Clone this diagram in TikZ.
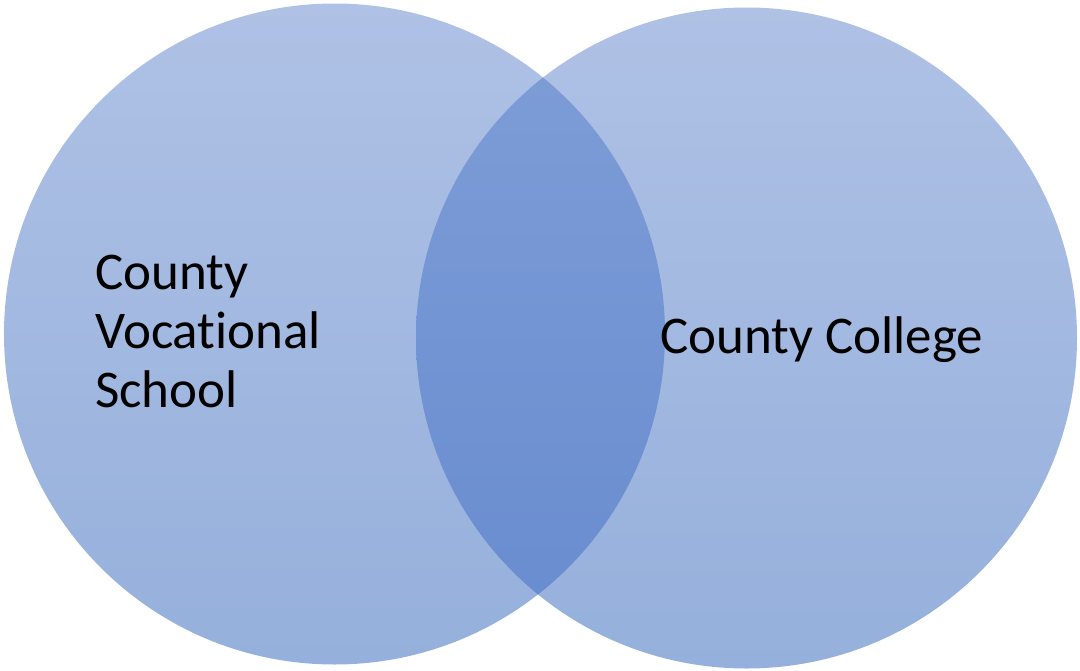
\documentclass[tikz,border=0pt]{standalone}
\usepackage{fontspec}
\setmainfont{Carlito}[Ligatures=NoCommon]
\definecolor{setTop}{RGB}{175,193,229}
\definecolor{setBot}{RGB}{149,176,220}
\definecolor{capTop}{RGB}{127,158,215}
\definecolor{capBot}{RGB}{103,139,207}
\tikzset{setlabel/.style={inner sep=0pt, anchor=base west, align=left, font=\fontsize{53}{59}\selectfont}}
\begin{document}
\begin{tikzpicture}[x=1pt,y=-1pt]
				\useasboundingbox (0,0) rectangle (1080,670);
				\shade[top color=setTop, bottom color=setBot] (334.5,334) circle (330.5);
				\shade[top color=setTop, bottom color=setBot] (746.5,338) circle (330.5);
				\begin{scope}
				\clip (334.5,334) circle (330.5);
				\shade[top color=capTop, bottom color=capBot] (746.5,338) circle (330.5);
				\end{scope}

				\node[setlabel] (vocational) at (95,407) {County\\Vocational\\School};
				\node[setlabel] (college) at (660,353) {County College};
				\end{tikzpicture}
\end{document}
